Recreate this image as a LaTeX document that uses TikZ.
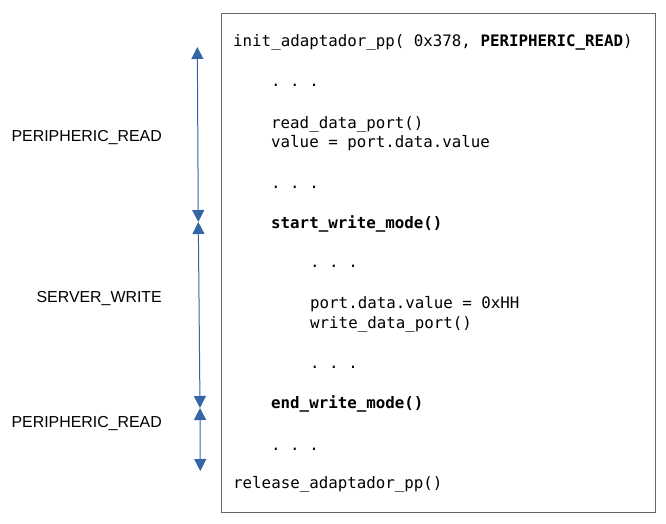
\documentclass[tikz,border=0pt]{standalone}
\usepackage{fontspec}
\setmainfont{Liberation Sans}
\setmonofont{DejaVu Sans Mono}
\usetikzlibrary{arrows.meta}
\definecolor{arrowblue}{HTML}{3465A4}

\begin{document}
\begin{tikzpicture}[x=1pt,y=-1pt,
  code/.style={anchor=base west,inner sep=0pt,font=\fontsize{15.8}{18}\selectfont\ttfamily},
  phase/.style={anchor=base east,inner sep=0pt,font=\fontsize{15.9}{18}\selectfont},
  span/.style={arrowblue,line width=1pt,{Triangle[width=12pt,length=12pt]}-{Triangle[width=12pt,length=12pt]}}]
\useasboundingbox (0,0) rectangle (666,523);
\node[draw=black!60,line width=1pt,minimum width=434pt,minimum height=499pt,anchor=north west] (box) at (221,13) {};
\node[code] (init) at (233,46) {init\_adaptador\_pp( 0x378, \textbf{PERIPHERIC\_READ})};
\node[code] (dotsA) at (271,86) {. . .};
\node[code] (read) at (271,128) {read\_data\_port()};
\node[code] (value) at (271,147) {value = port.data.value};
\node[code] (dotsB) at (271,188) {. . .};
\node[code] (start) at (271,228) {\textbf{start\_write\_mode()}};
\node[code] (dotsC) at (310,267) {. . .};
\node[code] (port) at (310,308) {port.data.value = 0xHH};
\node[code] (write) at (310,328) {write\_data\_port()};
\node[code] (dotsD) at (310,368) {. . .};
\node[code] (end) at (271,408) {\textbf{end\_write\_mode()}};
\node[code] (dotsE) at (271,450) {. . .};
\node[code] (release) at (233,488) {release\_adaptador\_pp()};
\node[phase] (readA) at (162,141) {PERIPHERIC\_READ};
\node[phase] (server) at (162,302) {SERVER\_WRITE};
\node[phase] (readB) at (162,427) {PERIPHERIC\_READ};
\coordinate (p1) at (197.3,47);
\coordinate (p2) at (198.3,222);
\coordinate (p3) at (200,408);
\coordinate (p4) at (200.3,471);
\draw[span] (p1) -- (p2);
\draw[span] (p2) -- (p3);
\draw[span] (p3) -- (p4);
\end{tikzpicture}
\end{document}
